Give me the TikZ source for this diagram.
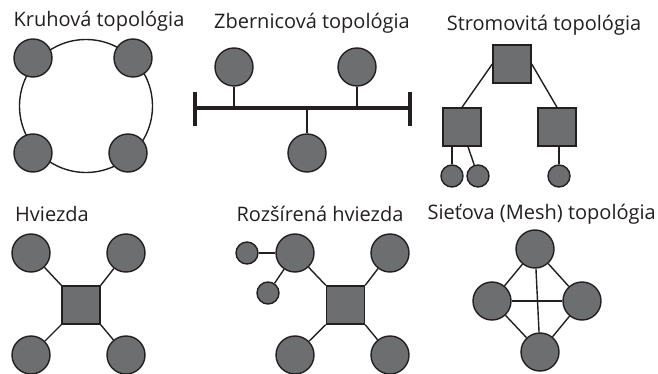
\documentclass[tikz,border=0pt]{standalone}
\usepackage{fontspec}
\setmainfont{Open Sans}
\definecolor{ink}{HTML}{231F20}
\definecolor{nodegray}{HTML}{6D6E70}
\tikzset{
  pc/.style={circle, draw=ink, fill=nodegray, line width=1.4pt, minimum size=38pt, inner sep=0pt},
  pcs/.style={circle, draw=ink, fill=nodegray, line width=1.4pt, minimum size=22pt, inner sep=0pt},
  hub/.style={rectangle, draw=ink, fill=nodegray, line width=1.4pt, minimum size=38pt, inner sep=0pt},
  wire/.style={draw=ink, line width=1.4pt},
  buswire/.style={draw=ink, line width=4.5pt},
  title/.style={text=ink, font=\fontsize{20}{24}\selectfont, inner sep=0pt}
}
\begin{document}
\begin{tikzpicture}[x=1pt,y=-1pt]
\useasboundingbox (0,0) rectangle (658,374);
% titles
\node[title] (t1) at (99,21) {Kruhová topológia};
\node[title] (t2) at (312,23) {Zbernicová topológia};
\node[title] (t3) at (544,25) {Stromovitá topológia};
\node[title] (t4) at (52,214) {Hviezda};
\node[title] (t5) at (320,214) {Rozšírená hviezda};
\node[title, anchor=east] (t6) at (656,214) {Sieťova (Mesh) topológia};

% ring
\node[circle, draw=ink, line width=1.4pt, minimum size=133pt, inner sep=0pt] (ring) at (86,106) {};
\node[pc] (r1) at (33,58) {};
\node[pc] (r2) at (133,58) {};
\node[pc] (r3) at (33,153) {};
\node[pc] (r4) at (128,153) {};

% bus
\coordinate (busL) at (195,108);
\coordinate (busR) at (410,108);
\coordinate (busLt) at (195,92);
\coordinate (busLb) at (195,126);
\coordinate (busRt) at (410,92);
\coordinate (busRb) at (410,126);
\node[pc] (b1) at (234,67) {};
\node[pc] (b2) at (357,67) {};
\node[pc] (b3) at (307,153) {};
\path[wire] (b1) -- (b1 |- busL);
\path[wire] (b2) -- (b2 |- busL);
\path[wire] (b3) -- (b3 |- busL);
\path[buswire] (busL) -- (busR);
\path[buswire] (busLt) -- (busLb);
\path[buswire] (busRt) -- (busRb);

% tree
\node[hub] (tr) at (512,64) {};
\node[hub] (tl1) at (462,127) {};
\node[hub] (tr1) at (557,127) {};
\node[pcs] (lf1) at (452,176) {};
\node[pcs] (lf2) at (478,176) {};
\node[pcs] (lf3) at (559,176) {};
\coordinate (tl1b) at (468,127);
\path[wire] (tr.west) -- (tl1.north);
\path[wire] (tr.east) -- (tr1.north);
\path[wire] (lf1 |- tl1.south) -- (lf1);
\path[wire] (tl1b |- tl1.south) -- (lf2);
\path[wire] (lf3 |- tr1.south) -- (lf3);

% star
\node[hub] (sh) at (81,305) {};
\node[pc] (s1) at (31,253) {};
\node[pc] (s2) at (126,253) {};
\node[pc] (s3) at (31,355) {};
\node[pc] (s4) at (126,355) {};
\path[wire] (sh.north west) -- (s1);
\path[wire] (sh.north east) -- (s2);
\path[wire] (sh.south west) -- (s3);
\path[wire] (sh.south east) -- (s4);

% extended star
\node[hub] (eh) at (345.5,305) {};
\node[pc] (e1) at (295,253) {};
\node[pc] (e2) at (390,253) {};
\node[pc] (e3) at (295,355) {};
\node[pc] (e4) at (390,355) {};
\node[pcs] (e5) at (247,253) {};
\node[pcs] (e6) at (268,293) {};
\path[wire] (eh.north west) -- (e1);
\path[wire] (eh.north east) -- (e2);
\path[wire] (eh.south west) -- (e3);
\path[wire] (eh.south east) -- (e4);
\path[wire] (e5) -- (e1);
\path[wire] (e6) -- (e1);

% mesh
\node[pc] (m1) at (535,249) {};
\node[pc] (m2) at (492,301) {};
\node[pc] (m3) at (582,301) {};
\node[pc] (m4) at (540,352) {};
\path[wire] (m1) -- (m2);
\path[wire] (m1) -- (m3);
\path[wire] (m1) -- (m4);
\path[wire] (m2) -- (m3);
\path[wire] (m2) -- (m4);
\path[wire] (m3) -- (m4);
\end{tikzpicture}
\end{document}
